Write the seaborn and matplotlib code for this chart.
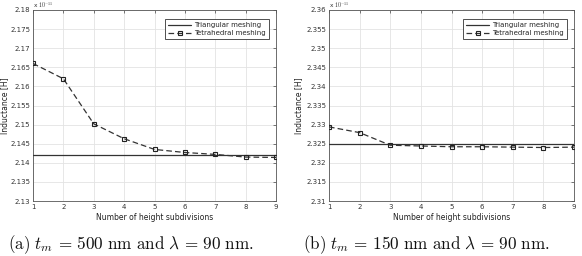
import matplotlib
matplotlib.use("Agg")
import matplotlib.pyplot as plt
import seaborn as sns
import numpy as np
import pandas as pd

# Data (inductance in units of 1e-11 H)
subdivisions = [1, 2, 3, 4, 5, 6, 7, 8, 9]
tetra_a = [2.1660, 2.1620, 2.1502, 2.1463, 2.1435, 2.1427, 2.1422, 2.1415, 2.1414]
tri_a = 2.1420
tetra_b = [2.3294, 2.3279, 2.3246, 2.3244, 2.3242, 2.3242, 2.3241, 2.3240, 2.3241]
tri_b = 2.3249
ylims_a = (2.13, 2.18)
ylims_b = (2.31, 2.36)
yticks_a = [2.13, 2.135, 2.14, 2.145, 2.15, 2.155, 2.16, 2.165, 2.17, 2.175, 2.18]
yticks_b = [2.31, 2.315, 2.32, 2.325, 2.33, 2.335, 2.34, 2.345, 2.35, 2.355, 2.36]
captions = [r"$\mathrm{(a)}\ t_m\, =\, 500\ \mathrm{nm\ and}\ \lambda\, =\, 90\ \mathrm{nm.}$",
            r"$\mathrm{(b)}\ t_m\, =\, 150\ \mathrm{nm\ and}\ \lambda\, =\, 90\ \mathrm{nm.}$"]

sns.set_theme(style="whitegrid")
plt.rcParams['font.family'] = ['DejaVu Sans']
plt.rcParams['mathtext.fontset'] = 'cm'

fig = plt.figure(figsize=(5.82, 2.56), dpi=100)
axes = [fig.add_axes([33/582, 1-201/256, (276-33)/582, 191/256]),
        fig.add_axes([329/582, 1-201/256, (574-329)/582, 191/256])]
label_x = [-0.100, -0.104]
cap_x = [131/582, 426/582]

panels = [(tetra_a, tri_a, ylims_a, yticks_a), (tetra_b, tri_b, ylims_b, yticks_b)]
for i, (ax, (tet, tri, yl, yt), cap) in enumerate(zip(axes, panels, captions)):
    df = pd.DataFrame({"x": subdivisions, "tet": tet})
    ax.axhline(tri, color="#333333", lw=0.9, label="Triangular meshing", zorder=3)
    sns.lineplot(data=df, x="x", y="tet", ax=ax, color="#333333", lw=0.9,
                 linestyle=(0, (4.5, 2.5)), marker="s", markersize=3.5,
                 markerfacecolor="none", markeredgecolor="#222222", markeredgewidth=0.8,
                 label="Tetrahedral meshing", zorder=4)
    ax.set_xlim(1, 9)
    ax.set_ylim(*yl)
    ax.set_xticks(subdivisions)
    ax.set_xticklabels([str(s) for s in subdivisions])
    ax.set_yticks(yt)
    ax.set_yticklabels([f"{v:g}" for v in yt])
    ax.tick_params(axis="both", labelsize=5, colors="#444444", direction="in",
                   length=2.5, width=0.5, pad=2, top=True, right=True)
    ax.tick_params(axis="both", labelcolor="#333333")
    ax.grid(True, color="#e3e3e3", lw=0.6)
    for s in ax.spines.values():
        s.set_color("#555555")
        s.set_linewidth(0.6)
    ax.set_facecolor("white")
    ax.set_xlabel("Number of height subdivisions", fontsize=5.5, color="#222222", labelpad=2)
    ax.set_ylabel("Inductance [H]", fontsize=5.5, color="#222222")
    ax.yaxis.set_label_coords(label_x[i], 0.5)
    ax.text(0.0, 1.0, r"x $10^{-11}$", transform=ax.transAxes, fontsize=4.2,
            color="#333333", ha="left", va="bottom", family="DejaVu Sans")
    leg = ax.legend(loc="upper right", fontsize=5, frameon=True, fancybox=False,
                    edgecolor="#333333", framealpha=1, borderpad=0.4,
                    handlelength=3.3, handletextpad=0.5, labelspacing=0.3,
                    bbox_to_anchor=(0.985, 0.97))
    leg.get_frame().set_linewidth(0.6)
    fig.text(cap_x[i], 1 - 245/256, cap, fontsize=12.3,
             ha="center", va="center", color="#111111")

fig.savefig("out.png", dpi=100, facecolor="white")
